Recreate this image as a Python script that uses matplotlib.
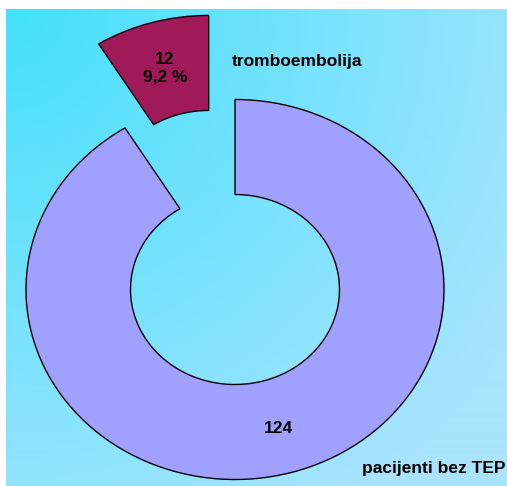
import numpy as np
import matplotlib.pyplot as plt
from matplotlib.colors import to_rgb

# data
categories = ["tromboembolija", "pacijenti bez TEP"]
counts = [12, 124]
value_labels = ["12\n9,2 %", "124"]
colors = ["#A01A5A", "#A0A0FF"]
explode = [0.46, 0.0]

W, H = 507, 486
fig = plt.figure(figsize=(W / 100, H / 100), dpi=100)
fig.patch.set_facecolor("white")
plt.rcParams["font.family"] = ["Liberation Sans", "DejaVu Sans"]

# gradient background panel (light from top-left corner outwards)
bg = fig.add_axes([6 / W, 0, 1 - 6 / W, 1 - 9 / H])
bg.set_axis_off()
yy, xx = np.mgrid[0:H - 9, 0:W - 6]
d = np.hypot(xx, yy) / np.hypot(W - 6, H - 9)
c0 = np.array(to_rgb("#44E0FC"))
c1 = np.array(to_rgb("#A8E4FC"))
t = np.clip(d * 1.15, 0, 1)[..., None]
img = c0 * (1 - t) + c1 * t
bg.imshow(img, aspect="auto", interpolation="bilinear")

# donut
ax = fig.add_axes([0, 0, 1, 1])
ax.patch.set_alpha(0)
wedges, _ = ax.pie(counts, colors=colors, explode=explode, startangle=90,
                   counterclock=True, radius=1.0,
                   wedgeprops=dict(width=0.5, edgecolor="black", linewidth=1.0))

# map pixels -> data: centre (235, 289.5), radii 209 x 190 px
cx, cy, rx, ry = 235, 289.5, 209, 190
ax.set_aspect("auto")
ax.set_xlim(-cx / rx, (W - cx) / rx)
ax.set_ylim((cy - H) / ry, cy / ry)
ax.set_axis_off()


def px(x, y):
    return (x - cx) / rx, (cy - y) / ry


kw = dict(fontsize=12.5, fontweight="bold", color="black")
ax.text(*px(165, 68), value_labels[0], ha="center", va="center",
        linespacing=1.2, **kw)
ax.text(*px(278, 428), value_labels[1], ha="center", va="center", **kw)
ax.text(*px(297, 62), categories[0], ha="center", va="center", **kw)
ax.text(*px(505, 468), categories[1], ha="right", va="center", **kw)

fig.savefig("out.png", dpi=100)
